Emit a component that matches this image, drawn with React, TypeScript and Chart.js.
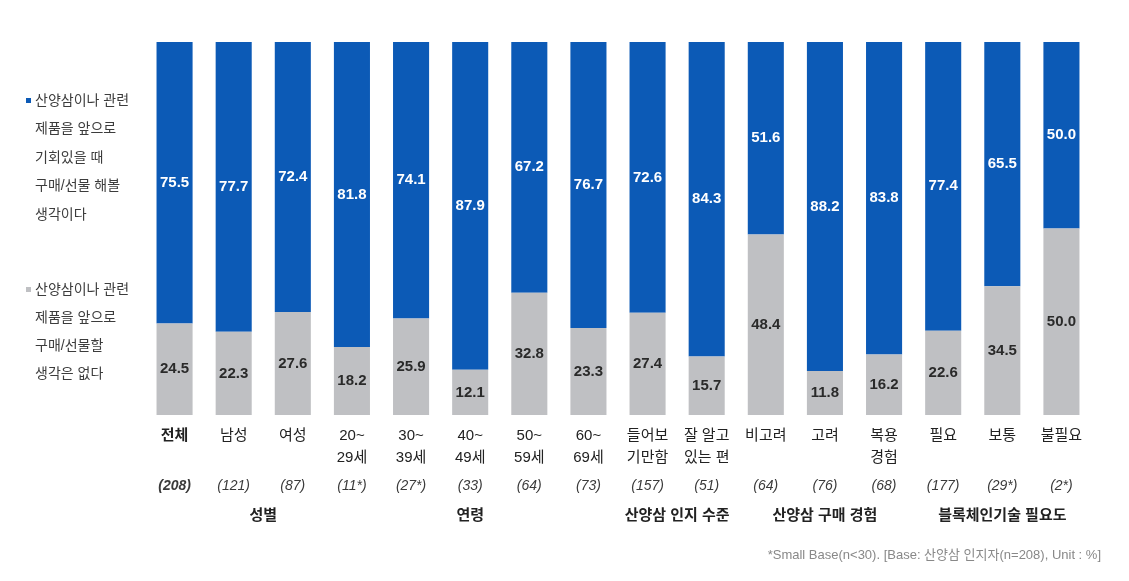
import React, { useEffect, useRef } from "react";
import { Chart, registerables } from "chart.js";

Chart.register(...registerables);

const categories: string[][] = [
  ["전체"], ["남성"], ["여성"], ["20~", "29세"], ["30~", "39세"], ["40~", "49세"],
  ["50~", "59세"], ["60~", "69세"], ["들어보", "기만함"], ["잘 알고", "있는 편"],
  ["비고려"], ["고려"], ["복용", "경험"], ["필요"], ["보통"], ["불필요"],
];
const buyValues = [75.5, 77.7, 72.4, 81.8, 74.1, 87.9, 67.2, 76.7, 72.6, 84.3, 51.6, 88.2, 83.8, 77.4, 65.5, 50.0];
const noBuyValues = [24.5, 22.3, 27.6, 18.2, 25.9, 12.1, 32.8, 23.3, 27.4, 15.7, 48.4, 11.8, 16.2, 22.6, 34.5, 50.0];
const sampleSizes = ["(208)", "(121)", "(87)", "(11*)", "(27*)", "(33)", "(64)", "(73)", "(157)", "(51)", "(64)", "(76)", "(68)", "(177)", "(29*)", "(2*)"];
const groupLabels = ["성별", "연령", "산양삼 인지 수준", "산양삼 구매 경험", "블록체인기술 필요도"];
const groupFrom = [1, 3, 8, 10, 13];
const groupTo = [2, 7, 9, 12, 15];
const legendBuy = ["산양삼이나 관련", "제품을 앞으로", "기회있을 때", "구매/선물 해볼", "생각이다"];
const legendNoBuy = ["산양삼이나 관련", "제품을 앞으로", "구매/선물할", "생각은 없다"];
const footnote = "*Small Base(n<30). [Base: 산양삼 인지자(n=208), Unit : %]";

const BLUE = "#0c5ab6";
const GRAY = "#bfc0c3";
const FONT = "'Liberation Sans', 'Noto Sans CJK KR', sans-serif";

const extrasPlugin = {
  id: "extras",
  afterDatasetsDraw(chart: any) {
    const ctx = chart.ctx;
    ctx.save();
    // value labels
    chart.data.datasets.forEach((ds: any, di: number) => {
      const meta = chart.getDatasetMeta(di);
      meta.data.forEach((bar: any, i: number) => {
        const v = ds.data[i];
        const yc = (bar.y + bar.base) / 2;
        ctx.font = `bold 15px ${FONT}`;
        ctx.textAlign = "center";
        ctx.textBaseline = "middle";
        ctx.fillStyle = di === 1 ? "#ffffff" : "#2a2a2a";
        ctx.fillText(v.toFixed(1), bar.x, yc);
      });
    });
    const x = chart.scales.x;
    // sample sizes
    ctx.textAlign = "center";
    ctx.textBaseline = "middle";
    sampleSizes.forEach((s, i) => {
      ctx.font = i === 0 ? `italic bold 14px ${FONT}` : `italic 14px ${FONT}`;
      ctx.fillStyle = "#3a3a3a";
      ctx.fillText(s, x.getPixelForValue(i), 486);
    });
    // group labels
    ctx.font = `bold 15px ${FONT}`;
    ctx.fillStyle = "#222";
    groupLabels.forEach((g, k) => {
      const cx = (x.getPixelForValue(groupFrom[k]) + x.getPixelForValue(groupTo[k])) / 2;
      ctx.fillText(g, cx, 516);
    });
    // legend
    ctx.textAlign = "left";
    ctx.font = `14px ${FONT}`;
    ctx.fillStyle = "#3c3c3c";
    legendBuy.forEach((t, i) => ctx.fillText(t, 35, 101 + i * 28.5));
    legendNoBuy.forEach((t, i) => ctx.fillText(t, 35, 290 + i * 28));
    ctx.fillStyle = BLUE;
    ctx.fillRect(26, 98, 5, 5);
    ctx.fillStyle = GRAY;
    ctx.fillRect(26, 287, 5, 5);
    // footnote
    ctx.textAlign = "right";
    ctx.font = `13px ${FONT}`;
    ctx.fillStyle = "#888";
    ctx.fillText(footnote, 1101, 555);
    ctx.restore();
  },
};

export default function App() {
  const ref = useRef<HTMLCanvasElement>(null);
  useEffect(() => {
    if (!ref.current) return;
    const chart = new Chart(ref.current, {
      type: "bar",
      data: {
        labels: categories,
        datasets: [
          { label: legendNoBuy.join(" "), data: noBuyValues, backgroundColor: GRAY, barPercentage: 0.61, categoryPercentage: 1 },
          { label: legendBuy.join(" "), data: buyValues, backgroundColor: BLUE, barPercentage: 0.61, categoryPercentage: 1 },
        ],
      },
      options: {
        responsive: false,
        animation: false,
        layout: { padding: { left: 145, right: 38, top: 42, bottom: 16 } },
        plugins: { legend: { display: false }, tooltip: { enabled: false } },
        scales: {
          x: {
            stacked: true,
            grid: { display: false },
            border: { display: false },
            afterFit: (s: any) => { s.height = 150; },
            ticks: {
              maxRotation: 0,
              autoSkip: false,
              padding: 2,
              color: "#222",
              font: (c: any) => ({ family: FONT, size: 15, weight: c.index === 0 ? "bold" : "normal", lineHeight: 1.45 }),
            },
          },
          y: { stacked: true, display: false, min: 0, max: 100 },
        },
      },
      plugins: [extrasPlugin],
    });
    return () => chart.destroy();
  }, []);
  return (
    <div style={{ position: "absolute", left: 0, top: 0, width: 1129, height: 581, background: "#fff" }}>
      <canvas ref={ref} width={1129} height={581} />
    </div>
  );
}
